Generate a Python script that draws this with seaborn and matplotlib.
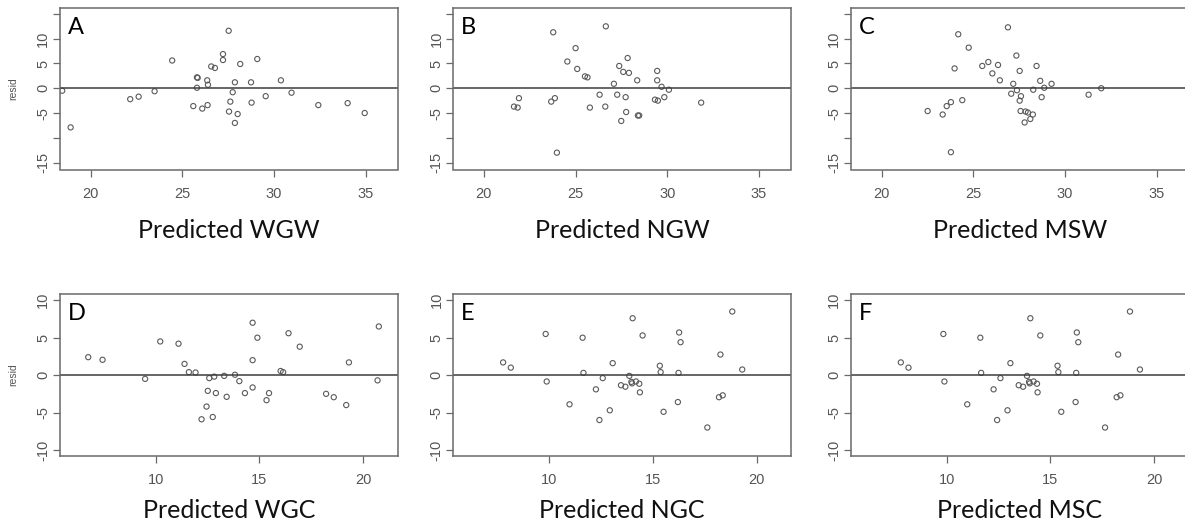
import matplotlib
matplotlib.use("Agg")
import matplotlib.pyplot as plt
import numpy as np
import pandas as pd
import seaborn as sns

# ---------------- data ----------------
wgw_pred = [18.45, 18.91, 22.16, 22.62, 23.49, 24.45, 25.60, 25.80, 25.84, 25.80, 26.09, 26.36,
            26.38, 26.40, 26.58, 26.78, 27.22, 27.22, 27.53, 27.55, 27.62, 27.75, 27.87, 27.87,
            28.02, 28.16, 28.75, 28.78, 29.09, 29.55, 30.38, 30.96, 32.42, 34.02, 34.95]
wgw_resid = [-0.5, -7.9, -2.2, -1.7, -0.6, 5.6, -3.6, 2.2, 2.1, 0.1, -4.1, 1.6,
             -3.4, 0.7, 4.4, 4.1, 6.9, 5.7, 11.6, -4.7, -2.7, -0.8, 1.2, -7.0,
             -5.2, 4.9, 1.2, -2.9, 5.9, -1.6, 1.6, -0.9, -3.4, -3.0, -5.0]

ngw_pred = [21.64, 21.84, 21.91, 23.67, 23.78, 23.87, 23.98, 24.55, 25.00, 25.09, 25.51, 25.65,
            25.78, 26.31, 26.62, 26.65, 27.09, 27.27, 27.38, 27.49, 27.60, 27.73, 27.76, 27.84,
            27.91, 28.36, 28.40, 28.47, 29.33, 29.45, 29.45, 29.49, 29.69, 29.84, 30.09, 31.85]
ngw_resid = [-3.7, -3.9, -2.0, -2.7, 11.3, -2.0, -13.0, 5.4, 8.1, 3.9, 2.4, 2.2,
             -3.9, -1.3, -3.7, 12.5, 0.9, -1.3, 4.5, -6.6, 3.3, -1.8, -4.8, 6.1,
             3.1, 1.6, -5.5, -5.5, -2.3, 3.5, 1.6, -2.5, 0.3, -1.8, -0.3, -2.9]

msw_pred = [22.51, 23.33, 23.55, 23.78, 23.78, 23.98, 24.18, 24.40, 24.75, 25.49, 25.82, 26.04,
            26.35, 26.45, 26.89, 27.07, 27.18, 27.35, 27.38, 27.53, 27.53, 27.60, 27.58, 27.80,
            27.85, 27.98, 28.11, 28.25, 28.27, 28.45, 28.65, 28.73, 28.87, 29.27, 31.29, 31.98]
msw_resid = [-4.6, -5.3, -3.6, -2.8, -12.9, 4.0, 10.9, -2.4, 8.2, 4.5, 5.3, 3.0,
             4.7, 1.6, 12.3, -1.1, 0.9, 6.6, -0.4, 3.5, -2.5, -1.6, -4.6, -6.9,
             -4.7, -4.9, -6.2, -5.3, -0.3, 4.5, 1.5, -1.8, 0.1, 0.9, -1.3, 0.0]

wgc_pred = [6.75, 7.44, 9.49, 10.22, 11.10, 11.39, 11.60, 11.92, 12.21, 12.45, 12.51, 12.58,
            12.75, 12.82, 12.90, 13.30, 13.42, 13.82, 14.03, 14.30, 14.67, 14.67, 14.67, 14.90,
            15.34, 15.46, 16.02, 16.14, 16.40, 16.94, 18.21, 18.58, 19.18, 19.31, 20.69, 20.75]
wgc_resid = [2.4, 2.05, -0.5, 4.5, 4.2, 1.5, 0.4, 0.35, -5.9, -4.2, -2.1, -0.4,
             -5.6, -0.2, -2.4, -0.1, -2.9, 0.05, -0.8, -2.4, 7.0, 2.0, -1.65, 5.0,
             -3.35, -2.4, 0.55, 0.4, 5.6, 3.8, -2.5, -2.95, -4.0, 1.7, -0.7, 6.5]

ngc_pred = [7.79, 8.16, 9.84, 9.89, 10.99, 11.62, 11.66, 12.26, 12.43, 12.59, 12.93, 13.07,
            13.47, 13.68, 13.87, 13.97, 14.03, 14.00, 14.19, 14.35, 14.38, 14.51, 15.34, 15.38,
            15.52, 16.21, 16.24, 16.27, 16.34, 17.63, 18.19, 18.26, 18.37, 18.83, 19.31]
ngc_resid = [1.7, 1.0, 5.5, -0.85, -3.9, 5.0, 0.3, -1.9, -6.0, -0.4, -4.7, 1.6,
             -1.35, -1.55, -0.1, -0.9, 7.6, -1.1, -0.85, -1.15, -2.3, 5.3, 1.25, 0.4,
             -4.9, -3.6, 0.3, 5.7, 4.4, -7.0, -2.95, 2.75, -2.7, 8.5, 0.75]

msc_pred = [7.79, 8.16, 9.84, 9.89, 10.99, 11.62, 11.66, 12.26, 12.43, 12.59, 12.93, 13.07,
            13.47, 13.68, 13.87, 13.97, 14.03, 14.00, 14.19, 14.35, 14.38, 14.51, 15.34, 15.38,
            15.52, 16.21, 16.24, 16.27, 16.34, 17.63, 18.19, 18.26, 18.37, 18.83, 19.31]
msc_resid = [1.7, 1.0, 5.5, -0.85, -3.9, 5.0, 0.3, -1.9, -6.0, -0.4, -4.7, 1.6,
             -1.35, -1.55, -0.1, -0.9, 7.6, -1.1, -0.85, -1.15, -2.3, 5.3, 1.25, 0.4,
             -4.9, -3.6, 0.3, 5.7, 4.4, -7.0, -2.95, 2.75, -2.7, 8.5, 0.75]

panel_letters = ["A", "B", "C", "D", "E", "F"]
panel_titles = ["Predicted WGW", "Predicted NGW", "Predicted MSW",
                "Predicted WGC", "Predicted NGC", "Predicted MSC"]
top_xticks = [20, 25, 30, 35]
top_yticks = [-15, -10, -5, 0, 5, 10, 15]
top_yticklabels = ["-15", "", "-5", "0", "5", "10", ""]
bot_xticks = [10, 15, 20]
bot_yticks = [-10, -5, 0, 5, 10]
bot_yticklabels = ["-10", "-5", "0", "5", "10"]

# ---------------- style ----------------
sns.set_style("white")
plt.rcParams["font.family"] = ["Liberation Sans", "DejaVu Sans"]

W, H = 1185, 527
fig = plt.figure(figsize=(W / 100, H / 100), dpi=100)


def px_axes(x0, y0, x1, y1):
    return fig.add_axes([x0 / W, 1 - y1 / H, (x1 - x0) / W, (y1 - y0) / H])


GRAY = "#5a5a5a"
xs = [(60, 397.7), (453.3, 791), (851, 1188.7)]
rows = [(8, 169.5), (294, 455.5)]
data = [(wgw_pred, wgw_resid), (ngw_pred, ngw_resid), (msw_pred, msw_resid),
        (wgc_pred, wgc_resid), (ngc_pred, ngc_resid), (msc_pred, msc_resid)]
title_y = [231, 510]

for i in range(6):
    r, c = divmod(i, 3)
    x0, x1 = xs[c]
    y0, y1 = rows[r]
    ax = px_axes(x0, y0, x1, y1)
    px, py = data[i]
    df = pd.DataFrame({"pred": px, "resid": py})
    sns.scatterplot(data=df, x="pred", y="resid", ax=ax, marker="o", s=14,
                    linewidth=0.8, legend=False)
    pts = ax.collections[-1]
    pts.set_facecolor("none")
    pts.set_edgecolor(GRAY)
    ax.axhline(0, color="#3c3c3c", lw=1.1, zorder=1)

    if r == 0:
        ax.set_xlim(18.33, 36.75)
        ax.set_ylim(-16.4, 16.2)
        ax.set_xticks(top_xticks)
        ax.set_yticks(top_yticks)
        ax.set_yticklabels(top_yticklabels)
    else:
        ax.set_xlim(5.39, 21.66)
        ax.set_ylim(-10.74, 10.84)
        ax.set_xticks(bot_xticks)
        ax.set_yticks(bot_yticks)
        ax.set_yticklabels(bot_yticklabels)

    for s in ax.spines.values():
        s.set_color("#6a6a6a")
        s.set_linewidth(1.1)
    ax.tick_params(axis="both", direction="out", length=5, width=0.9,
                   color="#6a6a6a", labelcolor="#555555", labelsize=10.5,
                   left=True, bottom=True)
    ax.tick_params(axis="x", pad=7.5)
    ax.tick_params(axis="y", pad=2)
    for lab in ax.get_yticklabels():
        lab.set_rotation(90)
        lab.set_va("center")

    ax.set_xlabel("")
    if c == 0:
        ax.set_ylabel("resid", fontsize=7.5, color="#555555")
        ax.yaxis.label.set_ha("center")
        ax.yaxis.label.set_va("center")
        ax.yaxis.set_label_coords(-47 / (x1 - x0), 0.5)
    else:
        ax.set_ylabel("")

    ax.text(8 / (x1 - x0), 1 - 9 / (y1 - y0), panel_letters[i], transform=ax.transAxes,
            ha="left", va="top", fontsize=17, family=["Lato", "DejaVu Sans"], color="black")

    fig.text(((x0 + x1) / 2) / W, 1 - title_y[r] / H, panel_titles[i],
             ha="center", va="center", fontsize=18, family=["Lato", "DejaVu Sans"],
             color="#111111")

fig.savefig("out.png", dpi=100, facecolor="white")
